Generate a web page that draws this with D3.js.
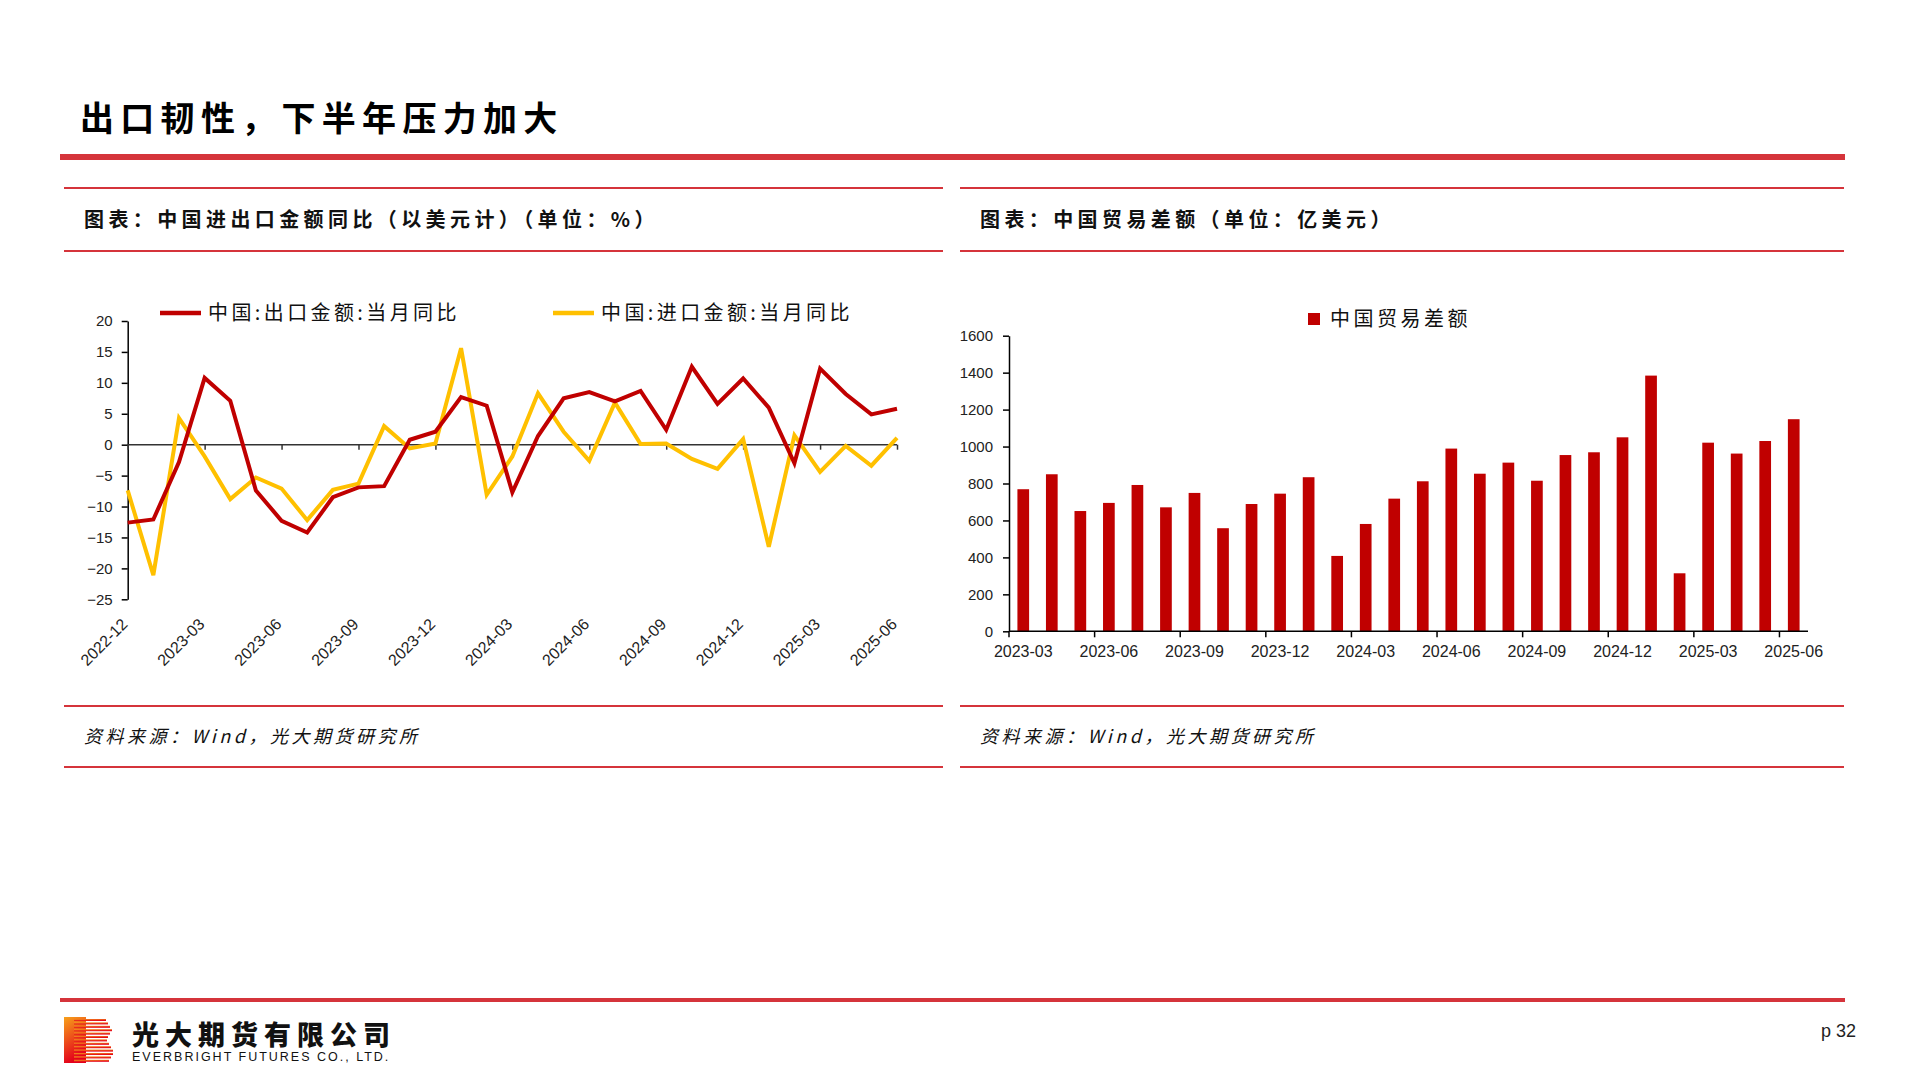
<!DOCTYPE html>
<html>
<head>
<meta charset="utf-8">
<script src="https://cdn.jsdelivr.net/npm/d3@7"></script>
<style>
  html, body { margin: 0; padding: 0; background: #fff; }
  svg { display: block; }
  text { font-family: "Noto Sans CJK SC", "Noto Sans", sans-serif; }
  .num { font-family: "Liberation Sans", Arial, sans-serif; }
</style>
</head>
<body>
<svg id="page" width="1920" height="1080"></svg>
<script>
// ---------------- DATA ----------------
const pageTitle = "出口韧性，下半年压力加大";
const leftChartTitle = "图表：中国进出口金额同比（以美元计）（单位：%）";
const rightChartTitle = "图表：中国贸易差额（单位：亿美元）";
const sourceText = "资料来源：Wind，光大期货研究所";

const months = ["2022-12","2023-01","2023-02","2023-03","2023-04","2023-05","2023-06","2023-07","2023-08","2023-09","2023-10","2023-11","2023-12",
  "2024-01","2024-02","2024-03","2024-04","2024-05","2024-06","2024-07","2024-08","2024-09","2024-10","2024-11","2024-12",
  "2025-01","2025-02","2025-03","2025-04","2025-05","2025-06"];
const exportYoY = [-12.6,-12.1,-2.8,10.8,7.1,-7.4,-12.3,-14.2,-8.5,-6.9,-6.7,0.8,2.1,
  7.7,6.3,-7.7,1.4,7.5,8.5,7.0,8.7,2.4,12.6,6.6,10.7,
  6.0,-3.0,12.3,8.2,4.9,5.8];
const importYoY = [-7.4,-21.1,4.3,-1.9,-8.8,-5.3,-7.1,-12.2,-7.3,-6.3,3.0,-0.6,0.2,
  15.6,-8.1,-1.9,8.3,2.1,-2.6,6.8,0.1,0.2,-2.3,-3.9,0.9,
  -16.5,1.5,-4.4,-0.2,-3.4,1.1];
const seriesNames = ["中国:出口金额:当月同比", "中国:进口金额:当月同比"];
const leftYTicks = [20,15,10,5,0,-5,-10,-15,-20,-25];

const balanceMonths = ["2023-03","2023-04","2023-05","2023-06","2023-07","2023-08","2023-09","2023-10","2023-11","2023-12",
  "2024-01","2024-02","2024-03","2024-04","2024-05","2024-06","2024-07","2024-08","2024-09","2024-10","2024-11","2024-12",
  "2025-01","2025-02","2025-03","2025-04","2025-05","2025-06"];
const tradeBalance = [769,850,651,695,792,671,749,558,689,745,
  834,408,581,718,812,989,853,913,815,954,969,1050,
  1384,314,1021,962,1030,1148];
const balanceName = "中国贸易差额";
const rightYTicks = [0,200,400,600,800,1000,1200,1400,1600];

// ---------------- STYLE ----------------
const RED_LINE = "#d5343b";
const EXP_COLOR = "#C00000";
const IMP_COLOR = "#FFC000";
const BAR_COLOR = "#C00000";

const svg = d3.select("#page");

// ---------------- PAGE FRAME ----------------
svg.append("text").attr("x", 80).attr("y", 131)
  .attr("font-size", 34).attr("font-weight", 700).attr("letter-spacing", 6.3)
  .attr("fill", "#000").text(pageTitle);
svg.append("rect").attr("x", 60).attr("y", 154).attr("width", 1785).attr("height", 6).attr("fill", RED_LINE);

function panelFrame(x0, x1, title) {
  [188, 251, 706, 767].forEach(y => {
    svg.append("rect").attr("x", x0).attr("y", y - 1).attr("width", x1 - x0).attr("height", 2).attr("fill", RED_LINE);
  });
  svg.append("text").attr("x", x0 + 20).attr("y", 227)
    .attr("font-size", 20).attr("font-weight", 700).attr("letter-spacing", 4.4)
    .attr("fill", "#111").text(title);
  svg.append("text").attr("x", x0 + 20).attr("y", 743)
    .attr("font-size", 18).attr("font-style", "italic").attr("letter-spacing", 3.5)
    .attr("fill", "#111").text(sourceText);
}
panelFrame(64, 943, leftChartTitle);
panelFrame(960, 1844, rightChartTitle);

// footer
svg.append("rect").attr("x", 60).attr("y", 998).attr("width", 1785).attr("height", 4).attr("fill", RED_LINE);
const grad = svg.append("defs").append("linearGradient").attr("id", "lg").attr("x1", 0).attr("y1", 0).attr("x2", 0.3).attr("y2", 1);
grad.append("stop").attr("offset", "0%").attr("stop-color", "#f7a11a");
grad.append("stop").attr("offset", "100%").attr("stop-color", "#e3001b");
const logo = svg.append("g");
logo.append("rect").attr("x", 64).attr("y", 1017).attr("width", 22).attr("height", 46).attr("fill", "url(#lg)");
d3.range(0, 13).forEach(i => {
  const yy = 1019 + i * 3.4;
  const w = (i < 6) ? 38 - Math.abs(i - 3) * 2 : 40 - Math.abs(i - 9.5) * 2;
  logo.append("rect").attr("x", 74).attr("y", yy).attr("width", w).attr("height", 2).attr("fill", "url(#lg)");
});
svg.append("text").attr("x", 132).attr("y", 1045).attr("font-size", 27).attr("font-weight", 900)
  .attr("letter-spacing", 6).attr("fill", "#111").text("光大期货有限公司");
svg.append("text").attr("x", 132).attr("y", 1061).attr("class", "num").attr("font-size", 12.5)
  .attr("letter-spacing", 2).attr("fill", "#111").text("EVERBRIGHT FUTURES CO., LTD.");
svg.append("text").attr("x", 1821).attr("y", 1037).attr("class", "num").attr("font-size", 18)
  .attr("fill", "#222").text("p 32");

// ---------------- LEFT CHART ----------------
(function () {
  const L = { left: 127.7, right: 897, top: 321, bottom: 599.3 };
  const x = d3.scalePoint().domain(months).range([L.left, L.right]);
  const y = d3.scaleLinear().domain([-25, 20]).range([L.bottom, L.top]);
  const g = svg.append("g");

  const yAxis = g.append("g").attr("transform", `translate(${L.left},0)`)
    .call(d3.axisLeft(y).tickValues(leftYTicks).tickSize(6).tickSizeOuter(0).tickPadding(9));
  yAxis.selectAll("path,line").attr("stroke", "#000").attr("stroke-width", 1.5);
  yAxis.selectAll("text").attr("class", "num").attr("font-size", 15).attr("fill", "#222");

  const tickMonths = months.filter((d, i) => i % 3 === 0);
  const xAxis = g.append("g").attr("transform", `translate(0,${y(0)})`)
    .call(d3.axisBottom(x).tickValues(tickMonths).tickSize(5).tickSizeOuter(0).tickFormat(""));
  xAxis.select(".domain").attr("d", `M${L.left},0H${L.right}`);
  xAxis.selectAll("path,line").attr("stroke", "#333").attr("stroke-width", 1.5);

  g.append("g").selectAll("text").data(tickMonths).join("text")
    .attr("class", "num").attr("font-size", 16).attr("fill", "#222")
    .attr("text-anchor", "end").attr("dy", "0.35em")
    .attr("transform", d => `translate(${x(d) - 3},${L.bottom + 22}) rotate(-45)`)
    .text(d => d);

  const line = d3.line().x((d, i) => x(months[i])).y(d => y(d));
  g.append("path").datum(importYoY).attr("d", line).attr("fill", "none")
    .attr("stroke", IMP_COLOR).attr("stroke-width", 4).attr("stroke-linejoin", "miter");
  g.append("path").datum(exportYoY).attr("d", line).attr("fill", "none")
    .attr("stroke", EXP_COLOR).attr("stroke-width", 4).attr("stroke-linejoin", "miter");

  // legend
  const leg = [
    { name: seriesNames[0], color: EXP_COLOR, x: 160 },
    { name: seriesNames[1], color: IMP_COLOR, x: 553 }
  ];
  leg.forEach(l => {
    g.append("line").attr("x1", l.x).attr("x2", l.x + 41).attr("y1", 313).attr("y2", 313)
      .attr("stroke", l.color).attr("stroke-width", 4.5);
    g.append("text").attr("x", l.x + 48).attr("y", 320).attr("font-size", 20)
      .attr("letter-spacing", 3.4).attr("fill", "#111").text(l.name);
  });
})();

// ---------------- RIGHT CHART ----------------
(function () {
  const R = { left: 1009, right: 1808, top: 335.7, bottom: 631.3 };
  const x = d3.scaleBand().domain(balanceMonths).range([R.left, R.right]).padding(0);
  const y = d3.scaleLinear().domain([0, 1600]).range([R.bottom, R.top]);
  const g = svg.append("g");
  const bw = x.bandwidth() * 0.41;

  g.append("g").selectAll("rect").data(tradeBalance).join("rect")
    .attr("x", (d, i) => x(balanceMonths[i]) + (x.bandwidth() - bw) / 2)
    .attr("y", d => y(d))
    .attr("width", bw)
    .attr("height", d => y(0) - y(d))
    .attr("fill", BAR_COLOR);

  const yAxis = g.append("g").attr("transform", `translate(${R.left},0)`)
    .call(d3.axisLeft(y).tickValues(rightYTicks).tickSize(6).tickSizeOuter(0).tickPadding(10).tickFormat(d3.format("d")));
  yAxis.selectAll("path,line").attr("stroke", "#000").attr("stroke-width", 1.5);
  yAxis.selectAll("text").attr("class", "num").attr("font-size", 15).attr("fill", "#222");

  const tickIdx = balanceMonths.map((d, i) => i).filter(i => i % 3 === 0);
  const xa = g.append("g").attr("transform", `translate(0,${R.bottom})`);
  xa.append("line").attr("x1", R.left).attr("x2", R.right).attr("stroke", "#000").attr("stroke-width", 1.5);
  xa.selectAll("line.t").data(tickIdx).join("line").attr("class", "t")
    .attr("x1", i => x(balanceMonths[i])).attr("x2", i => x(balanceMonths[i]))
    .attr("y1", 0).attr("y2", 6).attr("stroke", "#000").attr("stroke-width", 1.5);
  xa.selectAll("text").data(tickIdx).join("text")
    .attr("class", "num").attr("font-size", 16).attr("fill", "#222").attr("text-anchor", "middle")
    .attr("x", i => x(balanceMonths[i]) + x.bandwidth() / 2).attr("y", 26)
    .text(i => balanceMonths[i]);

  // legend
  g.append("rect").attr("x", 1308).attr("y", 313).attr("width", 12).attr("height", 12).attr("fill", BAR_COLOR);
  g.append("text").attr("x", 1330).attr("y", 326).attr("font-size", 20).attr("letter-spacing", 3.5)
    .attr("fill", "#111").text(balanceName);
})();
</script>
</body>
</html>
